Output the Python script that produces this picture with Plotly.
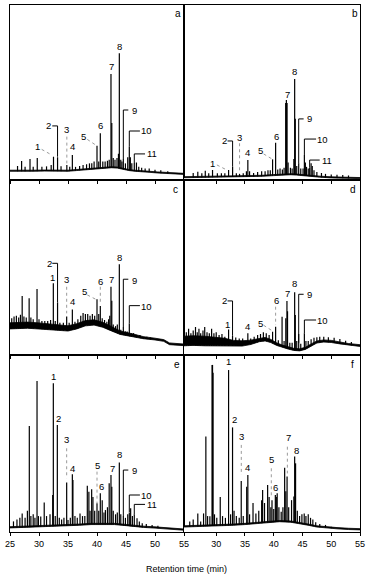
import plotly.graph_objects as go

# ---------------- data (retention time in min, relative intensity 0-100) ----------------
a_peak_t = [26.3, 27.0, 27.6, 28.45, 29.0, 29.7, 30.5, 31.3, 32.1, 32.5, 33.2, 33.8, 34.8, 35.3, 35.75, 36.3, 37.0, 37.6, 38.2, 38.7, 39.1, 39.5, 40.0, 40.3, 40.57, 41.0, 41.4, 41.8, 42.1, 42.41, 42.55, 42.8, 43.1, 43.45, 43.7, 43.85, 44.1, 44.3, 44.54, 44.9, 45.3, 45.57, 45.75, 46.0, 46.43, 46.8, 47.2, 47.7, 48.3, 49.0, 50.0, 51.0, 52.2]
a_peak_h = [8.0, 10.9, 7.5, 12.0, 7.5, 12.6, 7.5, 7.8, 8.5, 13.3, 13.0, 7.8, 8.5, 7.5, 14.3, 7.5, 8.0, 8.5, 9.0, 9.5, 9.5, 10.5, 19.6, 10.5, 26.7, 10.5, 10.5, 11.0, 11.5, 60.6, 32.5, 12.5, 11.5, 12.5, 15.0, 72.4, 11.5, 10.5, 12.0, 9.5, 13.0, 19.0, 13.0, 9.5, 9.7, 10.0, 7.5, 7.0, 6.5, 6.5, 5.8, 5.5, 5.0]
a_base_t = [25, 27, 29, 31, 33, 35, 36.5, 38, 39.5, 41, 42.5, 43.5, 44.5, 45.5, 46.5, 47.5, 49, 50.5, 52, 53.5, 55]
a_base_lo = [5.0, 5.2, 5.0, 5.1, 4.9, 5.0, 5.4, 5.9, 6.2, 6.6, 7.0, 6.8, 6.0, 5.4, 5.0, 4.6, 4.4, 4.0, 3.6, 3.3, 3.2]
a_base_hi = [5.6, 5.8, 5.6, 5.7, 5.5, 5.6, 6.0, 6.5, 6.8, 7.2, 7.6, 7.4, 6.6, 6.0, 5.6, 5.2, 5.0, 4.6, 4.2, 3.9, 3.8]

b_peak_t = [26.0, 26.8, 27.5, 28.1, 28.7, 29.36, 30.2, 30.9, 31.5, 32.15, 32.85, 33.5, 34.06, 34.7, 35.25, 35.5, 35.8, 36.5, 37.2, 37.9, 38.5, 39.0, 39.4, 39.8, 40.33, 40.7, 41.1, 41.5, 41.8, 42.08, 42.2, 42.32, 42.5, 42.9, 43.2, 43.5, 43.64, 43.75, 44.0, 44.34, 44.7, 45.1, 45.33, 45.5, 45.7, 46.0, 46.25, 46.5, 46.7, 47.0, 47.5, 48.3, 49.0, 50.0, 51.0, 52.0, 53.0]
b_peak_h = [4.0, 4.7, 3.8, 5.3, 3.8, 5.7, 3.8, 3.8, 3.8, 5.7, 7.6, 3.8, 3.5, 3.8, 5.0, 11.4, 5.0, 4.0, 4.5, 5.0, 5.0, 5.5, 5.5, 11.8, 21.3, 6.0, 6.5, 6.0, 7.0, 44.0, 45.7, 44.0, 10.0, 7.0, 6.5, 12.0, 57.7, 35.0, 8.0, 9.5, 6.5, 6.5, 14.3, 10.0, 7.5, 6.5, 7.0, 9.5, 8.0, 5.5, 4.5, 4.0, 3.5, 3.2, 3.0, 2.8, 2.6]
b_base_t = [24.4, 27, 30, 33, 36, 38, 40, 41.5, 43, 44, 45, 46.5, 48, 50, 52, 55]
b_base_lo = [1.3, 1.4, 1.5, 1.6, 1.8, 2.1, 2.5, 2.8, 3.0, 2.8, 2.4, 1.9, 1.6, 1.2, 1.0, 0.8]
b_base_hi = [1.9, 2.0, 2.1, 2.2, 2.4, 2.7, 3.1, 3.4, 3.6, 3.4, 3.0, 2.5, 2.2, 1.8, 1.6, 1.4]

c_peak_t = [25.3, 25.7, 26.1, 26.5, 26.8, 27.1, 27.4, 27.8, 28.3, 28.6, 29.0, 29.66, 30.0, 30.5, 31.0, 31.5, 32.0, 32.47, 32.8, 33.2, 33.6, 34.2, 34.77, 35.2, 35.75, 36.2, 36.7, 37.2, 37.6, 38.0, 38.4, 38.8, 39.2, 39.6, 40.0, 40.3, 40.57, 40.9, 41.3, 41.7, 42.0, 42.2, 42.41, 42.55, 42.8, 43.2, 43.5, 43.85, 44.1, 44.54, 44.9, 45.2, 45.57, 45.9, 46.3, 46.8, 47.4, 48.0, 48.6, 49.2]
c_peak_h = [21, 22, 22.5, 21.5, 23, 33.7, 22, 21.5, 32.4, 21.5, 20.5, 37.7, 20.5, 19.5, 19.5, 19.5, 20, 41, 19.5, 30, 18.5, 18.5, 22, 18.5, 26, 19, 20.5, 22.5, 24, 23.5, 23.5, 22.5, 23.5, 22.5, 31.8, 23.5, 28, 21, 20, 19, 20.5, 22.5, 39, 31, 17.5, 16.5, 17.5, 51.8, 14.5, 16, 13.5, 13.5, 18, 12.5, 12.5, 11.5, 11.5, 10.5, 10.5, 10]
c_base_t = [25, 26.5, 28, 30, 32, 33.5, 35, 36.5, 38, 39.5, 41, 42.5, 44, 46.3, 48, 50, 51.5, 52.5, 54, 55]
c_base_lo = [14.9, 15.3, 15.3, 14.85, 14.4, 14.05, 13.7, 14.9, 16.65, 17.1, 15.85, 13.75, 11.75, 10.35, 9.3, 8.6, 7.8, 5.9, 5.5, 5.35]
c_base_hi = [18.4, 18.8, 18.8, 18.35, 17.6, 17.05, 16.7, 17.9, 19.65, 20.1, 18.65, 16.25, 13.75, 11.95, 10.5, 9.6, 8.8, 6.9, 6.4, 6.25]

d_peak_t = [24.8, 25.2, 25.6, 26.0, 26.4, 26.7, 27.0, 27.3, 27.7, 28.0, 28.4, 28.8, 29.2, 29.6, 30.0, 30.5, 31.0, 31.5, 32.15, 32.84, 33.4, 34.0, 34.6, 35.5, 36.0, 36.6, 37.2, 37.7, 38.2, 38.7, 39.2, 39.8, 40.33, 40.8, 41.45, 41.8, 42.1, 42.3, 42.4, 42.8, 43.2, 43.64, 43.75, 44.0, 44.34, 44.7, 45.33, 45.6, 46.0, 46.5, 47.0, 47.5, 48.0, 48.7, 49.5, 50.5, 51.5, 52.5, 53.5]
d_peak_h = [13, 15, 12.5, 14, 16, 13, 15, 12.5, 14, 16, 13, 12.5, 15, 12.5, 13, 11.5, 12, 10.5, 14.6, 11, 10, 9.5, 9.5, 12.4, 9.5, 10.5, 11.5, 12, 13, 12.5, 11.5, 13.3, 16.2, 8.5, 21.9, 8, 21, 30.8, 25, 7, 7, 35.8, 22.9, 8, 12, 6.5, 12.4, 8, 8, 9, 9.8, 10.2, 10.5, 10.5, 10.2, 9.8, 9.2, 8.2, 7.5]
d_base_t = [24.4, 26, 28, 30, 31.5, 33, 34.5, 36, 37.5, 38.5, 39.5, 40.5, 41.5, 42.5, 43.5, 44.5, 45.5, 46.5, 47.5, 48.7, 50, 51.5, 53, 55]
d_base_lo = [5.25, 5.5, 5.25, 5.25, 5.05, 4.85, 5.1, 6.0, 7.6, 8.05, 7.1, 5.5, 4.35, 3.4, 2.6, 2.35, 3.2, 5.15, 6.85, 7.4, 7.15, 6.35, 5.55, 4.9]
d_base_hi = [10.75, 11.0, 10.75, 10.25, 9.55, 8.35, 8.1, 8.5, 9.6, 10.05, 8.9, 7.0, 5.65, 4.6, 3.8, 3.55, 4.4, 6.35, 8.05, 8.6, 8.35, 7.45, 6.55, 5.9]

e_peak_t = [25.6, 26.2, 26.7, 27.1, 27.6, 28.0, 28.33, 28.6, 29.0, 29.3, 29.66, 29.9, 30.3, 30.9, 31.3, 31.9, 32.36, 32.47, 32.8, 33.16, 33.5, 33.9, 34.3, 34.77, 35.0, 35.4, 35.75, 35.85, 36.2, 36.6, 37.07, 37.5, 37.9, 38.33, 38.6, 38.8, 39.08, 39.3, 39.6, 40.0, 40.3, 40.57, 40.9, 41.2, 41.45, 41.8, 42.1, 42.41, 42.55, 42.8, 43.2, 43.5, 43.85, 44.1, 44.54, 44.9, 45.3, 45.57, 45.8, 46.1, 46.43, 46.9, 47.3, 47.8, 48.5, 49.5, 50.5]
e_peak_h = [6, 7, 8, 10.5, 8, 12, 59.9, 9, 10, 8, 85.3, 9, 8.7, 16.6, 9, 10, 20.9, 84, 9, 60.5, 8, 7, 8, 27.9, 6.8, 8, 32.6, 29.4, 9, 8, 10.5, 9, 9, 26.2, 22.8, 12, 24.1, 19.8, 12, 16.3, 12, 21.9, 18, 11, 12.4, 14, 27.5, 32.2, 25.6, 12, 10, 11, 39.2, 10, 9, 8, 10, 10.9, 13.4, 9, 10, 7.7, 6, 5, 4.5, 4, 3.5]
e_base_t = [25, 27, 29, 31, 33, 35, 37, 39, 41, 43, 45, 46.5, 48, 50, 52, 55]
e_base_lo = [2.3, 2.5, 2.7, 2.9, 3.0, 3.4, 3.8, 4.2, 4.4, 4.2, 3.6, 3.0, 2.6, 2.2, 1.6, 1.0]
e_base_hi = [3.0, 3.2, 3.4, 3.6, 3.7, 4.1, 4.5, 4.9, 5.1, 4.9, 4.3, 3.7, 3.3, 2.9, 2.3, 1.7]

f_peak_t = [25.4, 26.0, 26.8, 27.3, 27.8, 28.2, 28.5, 28.9, 29.28, 29.36, 29.45, 29.7, 30.1, 30.7, 31.1, 31.6, 32.15, 32.5, 32.84, 33.1, 33.5, 34.0, 34.35, 34.7, 35.3, 35.5, 35.8, 36.4, 36.9, 37.4, 37.9, 38.07, 38.4, 38.94, 39.2, 39.5, 39.7, 40.0, 40.28, 40.45, 40.6, 40.9, 41.3, 41.6, 41.9, 42.1, 42.32, 42.6, 43.1, 43.5, 43.64, 43.8, 44.1, 44.5, 44.9, 45.3, 45.6, 46.0, 46.4, 46.8, 47.3, 48.0, 49.0, 50.0]
f_peak_h = [6, 7, 10.5, 6, 10.5, 53.9, 9, 8.9, 94.4, 94.4, 90, 10, 8, 19.8, 9, 8, 91.5, 10, 59.1, 12, 9, 8, 28.8, 9, 25.6, 32.2, 10, 16.4, 10.5, 12, 18, 23.7, 16.4, 26.6, 19.8, 14, 18, 13, 20.9, 19.8, 21.9, 14, 11.5, 14, 36.3, 23, 31.3, 14, 18, 20, 42.6, 38.8, 12, 9, 10, 10.5, 9, 10, 8, 7, 5.5, 4.5, 4, 3]
f_base_t = [24.4, 27, 29, 31, 33, 35, 37, 39, 41, 43, 44.5, 46, 47.5, 49, 51, 53, 55]
f_base_lo = [2.8, 3.0, 3.2, 3.5, 3.8, 4.2, 4.8, 5.4, 5.8, 5.5, 4.8, 3.8, 2.8, 2.2, 1.8, 1.4, 1.2]
f_base_hi = [3.5, 3.7, 3.9, 4.2, 4.5, 4.9, 5.5, 6.1, 6.5, 6.2, 5.5, 4.5, 3.5, 2.9, 2.5, 2.1, 1.9]

left_ticks = [25, 30, 35, 40, 45, 50, 55]
right_ticks = [30, 35, 40, 45, 50, 55]
panel_letters = ["a", "b", "c", "d", "e", "f"]
x_title = "Retention time (min)"

# ---------------- layout positions (labels, leader lines) ----------------
labels = {
    "a": [("1", 29.77, 19), ("2", 31.72, 30.9), ("3", 34.77, 28.6), ("4", 35.75, 19), ("5", 37.7, 24.8), ("6", 40.52, 31.4), ("7", 42.53, 64.8), ("8", 43.85, 76.2), ("9", 46.38, 40), ("10", 48.57, 28.2), ("11", 49.43, 14.9)],
    "b": [("1", 29.42, 9.5), ("2", 31.39, 22.3), ("3", 34.06, 24.2), ("4", 35.52, 15.6), ("5", 37.67, 16.6), ("6", 40.4, 24.8), ("7", 42.42, 49), ("8", 43.64, 61.9), ("9", 46.2, 34.9), ("10", 48.41, 23.4), ("11", 49.28, 11.4)],
    "c": [("1", 32.36, 44.4), ("2", 31.78, 52.4), ("3", 34.77, 42.9), ("4", 35.75, 30.5), ("5", 37.82, 36.2), ("6", 40.57, 41.9), ("7", 42.53, 42.9), ("8", 43.85, 55.8), ("9", 46.38, 42.5), ("10", 48.57, 28)],
    "d": [("1", 31.97, 17.5), ("2", 31.39, 31.4), ("4", 35.52, 16.2), ("5", 37.67, 18.1), ("6", 40.4, 30.9), ("7", 42.42, 35.2), ("8", 43.64, 40.6), ("9", 46.2, 34.7), ("10", 48.41, 20)],
    "e": [("1", 32.47, 88.1), ("2", 33.33, 64), ("3", 34.77, 52.4), ("4", 35.75, 36), ("5", 40.11, 37.3), ("6", 40.8, 25.6), ("7", 42.64, 36), ("8", 43.85, 43.9), ("9", 46.38, 35), ("10", 48.57, 20.7), ("11", 49.43, 15.6)],
    "f": [("1", 32.14, 96.2), ("2", 33.14, 63.7), ("3", 34.36, 53.8), ("4", 35.4, 36.3), ("5", 39.58, 41.2), ("6", 40.28, 25), ("7", 42.49, 53.5), ("8", 43.89, 45.9)],
}
leaders = {
    "a": [("g", 30.46, 17.5, 32.19, 14.3), ("k", 32.29, 30.9, 33.2, 30.9), ("k", 33.2, 30.9, 33.2, 13.3), ("g", 34.8, 24.8, 34.8, 9.5), ("g", 38.33, 23.2, 39.95, 19.6),
          ("k", 44.54, 40, 45.4, 40), ("k", 44.54, 40, 44.54, 12), ("k", 45.57, 28, 47.4, 28), ("k", 45.57, 28, 45.57, 19), ("k", 46.43, 14.9, 48.28, 14.9), ("k", 46.43, 14.9, 46.43, 9.7)],
    "b": [("g", 30.12, 8.6, 31.86, 5.7), ("k", 31.97, 22.3, 32.85, 22.3), ("k", 32.85, 22.3, 32.85, 7.6), ("g", 34.06, 21, 34.06, 3.8), ("g", 38.24, 14.9, 39.81, 11.8),
          ("k", 44.34, 34.9, 45.2, 34.9), ("k", 44.34, 34.9, 44.34, 9.5), ("k", 45.33, 23.4, 47.37, 23.4), ("k", 45.33, 23.4, 45.33, 14.3), ("k", 46.25, 11.4, 47.99, 11.4), ("k", 46.25, 11.4, 46.25, 7)],
    "c": [("k", 32.29, 52.4, 33.2, 52.4), ("k", 33.2, 52.4, 33.2, 30), ("g", 34.77, 39, 34.77, 23.8), ("g", 38.33, 34.3, 40.05, 31.4), ("g", 40.57, 39, 40.57, 29.5),
          ("k", 44.54, 43.3, 45.4, 43.3), ("k", 44.54, 43.3, 44.54, 16), ("k", 45.57, 28.2, 47.4, 28.2), ("k", 45.57, 28.2, 45.57, 18)],
    "d": [("k", 31.97, 30.9, 32.84, 30.9), ("k", 32.84, 30.9, 32.84, 11), ("g", 38.24, 17, 39.81, 13.7), ("g", 40.33, 27.6, 40.33, 17.1),
          ("k", 44.34, 34.7, 45.2, 34.7), ("k", 44.34, 34.7, 44.34, 7), ("k", 45.33, 20, 47.37, 20), ("k", 45.33, 20, 45.33, 12.4)],
    "e": [("g", 34.77, 47.3, 34.77, 30.3), ("g", 40.0, 34.1, 40.0, 16.2), ("k", 44.54, 35, 45.4, 35), ("k", 44.54, 35, 44.54, 9),
          ("k", 45.57, 20.9, 47.4, 20.9), ("k", 45.57, 20.9, 45.57, 11), ("k", 46.43, 15.6, 48.28, 15.6), ("k", 46.43, 15.6, 46.43, 10)],
    "f": [("g", 34.36, 49.2, 34.36, 32.2), ("g", 39.58, 36, 39.58, 19.9), ("g", 42.37, 48.2, 42.37, 33.1)],
}

panels = [
    ("a", a_peak_t, a_peak_h, a_base_t, a_base_lo, a_base_hi),
    ("b", b_peak_t, b_peak_h, b_base_t, b_base_lo, b_base_hi),
    ("c", c_peak_t, c_peak_h, c_base_t, c_base_lo, c_base_hi),
    ("d", d_peak_t, d_peak_h, d_base_t, d_base_lo, d_base_hi),
    ("e", e_peak_t, e_peak_h, e_base_t, e_base_lo, e_base_hi),
    ("f", f_peak_t, f_peak_h, f_base_t, f_base_lo, f_base_hi),
]

W, H = 372, 575
ML, MR, MT, MB = 10, 12, 5, 43
PW = W - ML - MR
PH = H - MT - MB
xdom = [[0, 174 / PW], [174 / PW, 1]]
ydom = [[352 / PH, 1], [177 / PH, 352 / PH], [0, 177 / PH]]

FONT = "Arial, Liberation Sans, sans-serif"
fig = go.Figure()
layout = dict(width=W, height=H, margin=dict(l=ML, r=MR, t=MT, b=MB),
              paper_bgcolor="white", plot_bgcolor="white", showlegend=False)
shapes, annotations = [], []

for i, (name, pt, ph, bt, blo, bhi) in enumerate(panels):
    assert len(pt) == len(ph) and len(bt) == len(blo) == len(bhi)
    idx = i + 1
    row, col = i // 2, i % 2
    xa = "x" if idx == 1 else f"x{idx}"
    ya = "y" if idx == 1 else f"y{idx}"
    sx, sy = [], []
    for t, h in zip(pt, ph):
        sx += [t, t, None]
        sy += [0, h, None]
    fig.add_trace(go.Scatter(x=sx, y=sy, mode="lines", line=dict(color="black", width=1.2),
                             xaxis=xa, yaxis=ya, hoverinfo="skip"))
    fig.add_trace(go.Scatter(x=bt, y=blo, mode="lines", line=dict(color="black", width=0.8),
                             fill="tozeroy", fillcolor="white", xaxis=xa, yaxis=ya, hoverinfo="skip"))
    fig.add_trace(go.Scatter(x=bt, y=bhi, mode="lines", line=dict(color="black", width=0.8),
                             fill="tonexty", fillcolor="black", xaxis=xa, yaxis=ya, hoverinfo="skip"))

    ticks = left_ticks if col == 0 else right_ticks
    xr = [25, 55] if col == 0 else [24.4, 55]
    layout["xaxis" if idx == 1 else f"xaxis{idx}"] = dict(
        domain=xdom[col], range=xr, anchor=ya, showline=True, mirror=True, linecolor="black",
        linewidth=1, ticks="outside", ticklen=3, tickwidth=1, tickcolor="black",
        tickvals=ticks, ticktext=[str(v) for v in ticks], showticklabels=(row == 2),
        tickfont=dict(family=FONT, size=9, color="black"), showgrid=False, zeroline=False)
    layout["yaxis" if idx == 1 else f"yaxis{idx}"] = dict(
        domain=ydom[row], range=[0, 100], anchor=xa, showline=True, mirror=True,
        linecolor="black", linewidth=1, ticks="", showticklabels=False, showgrid=False, zeroline=False)

    for txt, t, h in labels[name]:
        annotations.append(dict(x=t, y=h, xref=xa, yref=ya, text=txt, showarrow=False,
                                xanchor="center", yanchor="middle",
                                font=dict(family=FONT, size=9.5, color="black")))
    for kind, t0, h0, t1, h1 in leaders[name]:
        if kind == "k":
            ln = dict(color="black", width=1)
        else:
            ln = dict(color="#9a9a9a", width=1, dash="dot")
        shapes.append(dict(type="line", xref=xa, yref=ya, x0=t0, y0=h0, x1=t1, y1=h1, line=ln))
    lx = [0.966, 0.97, 0.954, 0.96, 0.96, 0.955][i]
    ly = [0.949, 0.949, 0.943, 0.943, 0.949, 0.949][i]
    annotations.append(dict(x=lx, y=ly, xref=f"{xa} domain", yref=f"{ya} domain", text=panel_letters[i],
                            showarrow=False, xanchor="center", yanchor="middle",
                            font=dict(family=FONT, size=10, color="black")))

annotations.append(dict(x=(186 - ML) / PW, y=-(569 - (H - MB)) / PH, xref="paper", yref="paper",
                        text=x_title, showarrow=False, xanchor="center", yanchor="middle",
                        font=dict(family=FONT, size=9, color="black")))

layout["shapes"] = shapes
layout["annotations"] = annotations
fig.update_layout(**layout)
fig.write_html("out.html", config={"displayModeBar": False, "staticPlot": True},
               post_script="document.body.style.margin='0';document.body.style.padding='0';")
